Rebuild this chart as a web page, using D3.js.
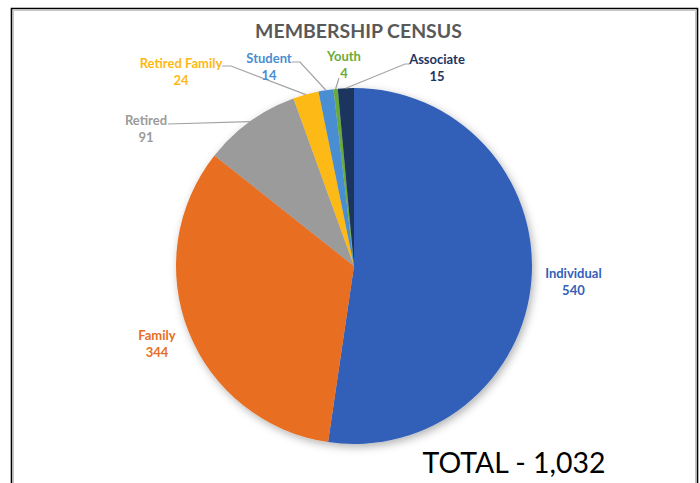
<!DOCTYPE html>
<html>
<head>
<meta charset="utf-8">
<script src="https://cdn.jsdelivr.net/npm/d3@7"></script>
<style>
  html, body { margin: 0; padding: 0; background: #fff; }
  svg { display: block; }
</style>
</head>
<body>
<div id="chart"></div>
<script>
// Chart data
const categories = ['Individual', 'Family', 'Retired', 'Retired Family', 'Student', 'Youth', 'Associate'];
const members = [540, 344, 91, 24, 14, 4, 15];
const sliceColors = ['#3360B8', '#E86E23', '#9B9B9B', '#FDB912', '#4A8ED2', '#69AB3B', '#1D355F'];
const chartTitle = 'MEMBERSHIP CENSUS';

const width = 700, height = 483;
const cx = 354, cy = 266, radius = 178;

// where each label block sits, relative to the pie centre ('polar' = follow slice mid angle)
// leader points go from the slice edge out towards the label
const labelPlace = {
  'Individual':     { polar: 220 },
  'Family':         { polar: 212 },
  'Retired':        { dx: -208, dy: -137, leader: [[-186, -142]] },
  'Retired Family': { dx: -173, dy: -194, leader: [[-123, -200], [-132, -200]] },
  'Student':        { dx: -85,  dy: -199, leader: [[-54, -204], [-62, -204]] },
  'Youth':          { dx: -10,  dy: -201, leader: [[-15, -188]] },
  'Associate':      { dx: 83,   dy: -198, leader: [[51, -202], [56, -202]] }
};

const svg = d3.select('#chart').append('svg')
  .attr('width', width)
  .attr('height', height);

const defs = svg.append('defs');
const shadow = defs.append('filter').attr('id', 'pieShadow')
  .attr('x', '-20%').attr('y', '-20%').attr('width', '140%').attr('height', '140%');
shadow.append('feDropShadow')
  .attr('dx', 2).attr('dy', 3).attr('stdDeviation', 4)
  .attr('flood-color', '#000').attr('flood-opacity', 0.3);

// frame
svg.append('path')
  .attr('d', `M11.5,${height} V8.5 H697.5 V${height}`)
  .attr('fill', 'none').attr('stroke', '#000').attr('stroke-width', 1.6);
svg.append('path')
  .attr('d', `M13.5,${height} V10.5 H695.5 V${height}`)
  .attr('fill', 'none').attr('stroke', '#c6c6c6').attr('stroke-width', 1);

// title
const titleText = svg.append('text')
  .attr('x', 358.5).attr('y', 38)
  .attr('text-anchor', 'middle')
  .attr('font-family', 'Lato, "Open Sans", sans-serif')
  .attr('font-weight', 700)
  .attr('font-size', 19)
  .attr('fill', '#595959')
  .text(chartTitle);
fitWidth(titleText, 207);

const pie = d3.pie().sort(null).value(d => d.value);
const arcs = pie(categories.map((c, i) => ({ name: c, value: members[i], color: sliceColors[i] })));
const arc = d3.arc().innerRadius(0).outerRadius(radius);
const edgeArc = d3.arc().innerRadius(radius).outerRadius(radius);

const g = svg.append('g').attr('transform', `translate(${cx},${cy})`);

g.append('g').attr('filter', 'url(#pieShadow)')
  .selectAll('path')
  .data(arcs)
  .enter().append('path')
  .attr('d', arc)
  .attr('fill', d => d.data.color);

// leader lines
arcs.forEach(function (d) {
  const spot = labelPlace[d.data.name];
  if (!spot.leader) return;
  g.append('path')
    .attr('d', d3.line()([edgeArc.centroid(d)].concat(spot.leader)))
    .attr('fill', 'none')
    .attr('stroke', '#a3a3a3')
    .attr('stroke-width', 1.2);
});

// labels
arcs.forEach(function (d) {
  const spot = labelPlace[d.data.name];
  let x, y;
  if (spot.polar) {
    const mid = (d.startAngle + d.endAngle) / 2;
    x = spot.polar * Math.sin(mid);
    y = -spot.polar * Math.cos(mid);
  } else {
    x = spot.dx; y = spot.dy;
  }
  const t = g.append('text')
    .attr('text-anchor', 'middle')
    .attr('font-family', 'Lato, "Open Sans", sans-serif')
    .attr('font-weight', 700)
    .attr('font-size', 13)
    .attr('fill', d.data.color);
  t.append('tspan').attr('x', x).attr('y', y - 8.5).attr('dy', '0.35em').text(d.data.name);
  t.append('tspan').attr('x', x).attr('y', y + 8.5).attr('dy', '0.35em').text(d.data.value);
});

// total
const totalText = svg.append('text')
  .attr('x', 514).attr('y', 473)
  .attr('text-anchor', 'middle')
  .attr('font-family', 'Lato, "Open Sans", sans-serif')
  .attr('font-size', 28)
  .attr('fill', '#000')
  .text('TOTAL - ' + d3.format(',')(d3.sum(members)));
fitWidth(totalText, 183);

function fitWidth(sel, w) {
  const cur = sel.node().getComputedTextLength();
  const fs = parseFloat(sel.attr('font-size'));
  sel.attr('font-size', (fs * w / cur).toFixed(2));
}
</script>
</body>
</html>
